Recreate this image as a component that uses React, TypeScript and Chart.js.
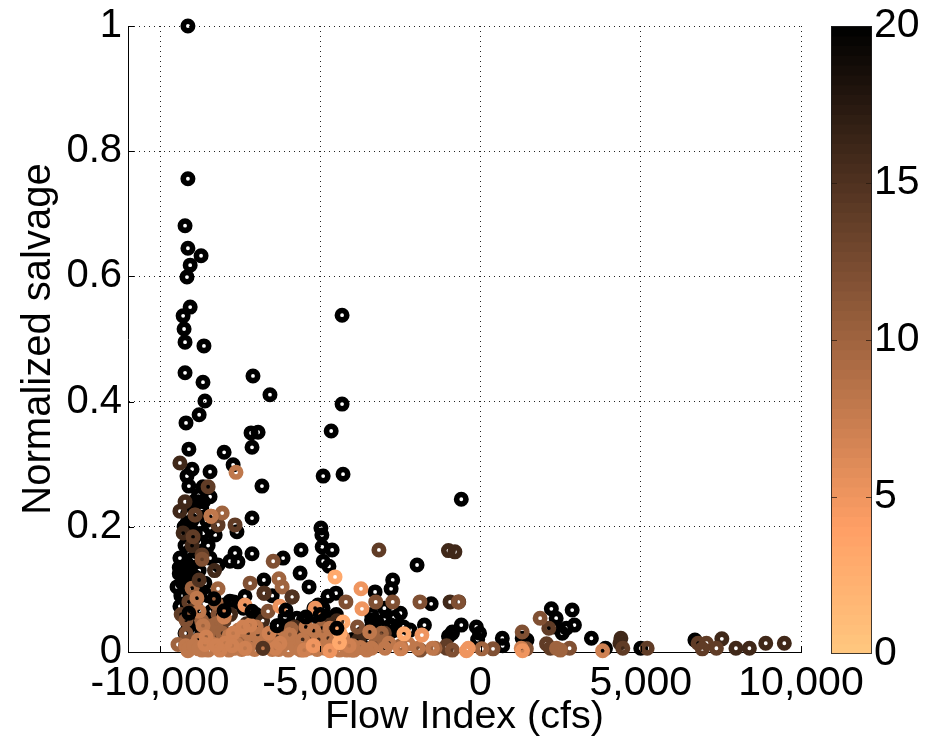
import React, { useEffect, useRef } from "react";
import { Chart, registerables } from "chart.js";

Chart.register(...registerables);

const xTicks = [-10000, -5000, 0, 5000, 10000];
const xTickLabels = ["-10,000", "-5,000", "0", "5,000", "10,000"];
const yTicks = [0, 0.2, 0.4, 0.6, 0.8, 1];
const colorTicks = [0, 5, 10, 15, 20];

type P = [number, number];

const black20: P[] = [
  [-9130, 1], [-9130, 0.756], [-9220, 0.681], [-9130, 0.645], [-8720, 0.633], [-9060, 0.618], [-9160, 0.599],
  [-9060, 0.551], [-4320, 0.538], [-9280, 0.537], [-9250, 0.516], [-9220, 0.495], [-8630, 0.489], [-9220, 0.446],
  [-7100, 0.441], [-8660, 0.431], [-6570, 0.411], [-8600, 0.401], [-4320, 0.396], [-8780, 0.379], [-9190, 0.366],
  [-4660, 0.353], [-7160, 0.35], [-6940, 0.351], [-7130, 0.327], [-8000, 0.319], [-9100, 0.324], [-7720, 0.299],
  [-9000, 0.292], [-8440, 0.288], [-9160, 0.281], [-4910, 0.281], [-4290, 0.284], [-9100, 0.265], [-6820, 0.265],
  [-8660, 0.264], [-8440, 0.248], [-600, 0.244], [-8810, 0.24], [-7130, 0.214], [-9160, 0.206], [-7600, 0.192],
  [-4980, 0.198], [-4950, 0.187], [-8440, 0.198], [-8280, 0.187], [-4940, 0.168], [-4630, 0.163], [-7660, 0.158],
  [-7130, 0.157], [-7820, 0.145], [-7570, 0.144], [-8190, 0.139], [-6160, 0.15], [-5600, 0.163], [-4910, 0.145],
  [-4730, 0.137], [-1980, 0.139], [-5630, 0.126], [-6760, 0.115], [-5350, 0.104], [-2740, 0.115], [-2790, 0.101],
  [-3290, 0.096], [-7350, 0.089], [-7820, 0.081], [-4510, 0.094], [-4760, 0.089], [-1540, 0.077], [-9470, 0.104],
  [-9380, 0.073], [-9220, 0.056], [-9000, 0.062], [-9220, 0.03], [-9310, 0.13], [-9100, 0.16], [-9220, 0.17],
  [-9380, 0.15], [-8970, 0.18], [-8780, 0.175], [-9000, 0.21], [-8780, 0.13], [-8600, 0.11], [-9280, 0.09],
  [-8440, 0.15], [-8900, 0.12], [-9100, 0.1], [-8500, 0.17], [-8700, 0.23], [-9250, 0.12], [-9130, 0.045],
  [-8900, 0.05], [-8600, 0.055], [-7000, 0.06], [-6500, 0.09], [-6100, 0.056], [-5530, 0.051], [-5730, 0.054],
  [-5200, 0.07], [-4910, 0.07], [-5070, 0.075], [-4600, 0.055], [-3300, 0.05], [-3000, 0.07], [-2800, 0.043],
  [-3400, 0.04], [-2500, 0.062], [-3000, 0.051], [-3400, 0.051], [-2700, 0.055], [-2400, 0.04], [-2200, 0.035],
  [-3100, 0.037], [-2800, 0.032], [-1750, 0.043], [-600, 0.043], [-880, 0.032], [-130, 0.04], [-5700, 0.04],
  [2210, 0.069], [2860, 0.067], [2360, 0.054], [2930, 0.043], [2300, 0.04], [2680, 0.038], [2550, 0.03], [680, 0.022],
  [1300, 0.022], [1450, 0.019], [-30, 0.03], [-90, 0.02], [690, 0.01], [3460, 0.022], [3900, 0.006], [5000, 0.006],
  [6690, 0.019], [-880, 0.03], [-1000, 0.025], [-4000, 0.02], [-5000, 0.04], [-6300, 0.042], [-7500, 0.03],
  [-8000, 0.075], [-7700, 0.08], [-7400, 0.07],
  [-9400, 0.135], [-9300, 0.11], [-9150, 0.14], [-9050, 0.135], [-8950, 0.15], [-8850, 0.16], [-9250, 0.2],
  [-9150, 0.22], [-8950, 0.24], [-8800, 0.25], [-8650, 0.24], [-8550, 0.21], [-8650, 0.19], [-8900, 0.19],
  [-9100, 0.19], [-9400, 0.125], [-9350, 0.09], [-9150, 0.075], [-8900, 0.075], [-8750, 0.09], [-8500, 0.09],
  [-8400, 0.065], [-8200, 0.07], [-8700, 0.03], [-8900, 0.03], [-9000, 0.015], [-9200, 0.01], [-8400, 0.02],
  [-3400, 0.06], [-3200, 0.045], [-2950, 0.03], [-2650, 0.035], [-3600, 0.03], [-3500, 0.02], [-3000, 0.015],
  [-5000, 0.05], [-4800, 0.04], [-4500, 0.06], [-5200, 0.045], [-5500, 0.03], [-5300, 0.025],
];

const dark16: P[] = [
  [-9380, 0.302], [-9220, 0.24], [-9380, 0.225], [-8900, 0.219], [-9280, 0.19], [-9000, 0.17], [-8300, 0.13],
  [-7800, 0.06], [-6800, 0.05], [-6200, 0.03], [-5800, 0.04], [-5000, 0.025], [-4500, 0.035], [-4480, 0.05],
  [-4700, 0.043], [-8000, 0.03], [-7300, 0.045], [4380, 0.022], [4350, 0.014], [7530, 0.021], [7970, 0.006],
  [8390, 0.006], [8900, 0.014], [9480, 0.014], [-950, 0.08], [-800, 0.16], [-1000, 0.162], [-680, 0.08],
  [-7000, 0.02], [-6500, 0.02], [-6000, 0.018], [-5600, 0.015], [-5300, 0.018], [-4900, 0.025], [-4500, 0.02],
  [-7300, 0.025], [-6800, 0.035], [-8100, 0.02], [-3800, 0.02], [-3700, 0.03],
];

const brown14: P[] = [
  [-8500, 0.264], [-8190, 0.203], [-8910, 0.219], [-8970, 0.184], [-7660, 0.203], [-3170, 0.163], [-8690, 0.155],
  [-6760, 0.094], [-5880, 0.088], [-9340, 0.06], [-9100, 0.08], [-8000, 0.05], [-1060, 0.006], [-1060, 0.01],
  [4440, 0.006], [5200, 0.006], [2060, 0.013], [2180, 0.006], [6790, 0.014], [7050, 0.014], [6920, 0.005],
  [7360, 0.006], [-6790, 0.006], [2130, 0.038], [-3000, 0.03],
];

const brown12: P[] = [
  [-8690, 0.148], [-6470, 0.145], [-4200, 0.08], [-3270, 0.08], [-2740, 0.08], [-1890, 0.08], [-690, 0.08],
  [-3840, 0.04], [1300, 0.032], [1860, 0.054], [390, 0.005], [-1880, 0.003], [-6630, 0.065], [-9190, 0.03],
  [-9190, 0.051], [1430, 0.005], [2780, 0.006], [-880, 0.003], [-3090, 0.018], [-8190, 0.06], [-7190, 0.11],
];

const mid10: P[] = [
  [-8060, 0.222], [-8190, 0.101], [-8250, 0.078], [-6290, 0.117], [-6190, 0.104], [-8380, 0.042], [-8000, 0.056],
  [-5910, 0.037], [-3270, 0.014], [-1420, 0.006], [40, 0.005], [-9440, 0.012], [-9000, 0.102], [-4950, 0.038],
  [-4730, 0.008], [-3090, 0.03], [-2500, 0.01], [-4000, 0.003], [2490, 0.003], [2370, 0.006], [-8500, 0.027],
  [-7500, 0.014], [-5300, 0.01],
  [-8700, 0.05], [-8450, 0.035], [-8250, 0.045], [-8050, 0.03],
];

const orange8: P[] = [
  [-8410, 0.217], [-8850, 0.086], [-8780, 0.065], [-8660, 0.042], [-8810, 0.019], [-8690, 0.003], [-9130, 0.002],
  [-7000, 0.04], [-5700, 0.006], [-5200, 0.034], [-4700, 0.038], [-4700, 0.006], [-4170, 0.003], [-3460, 0.032],
  [-2980, 0.006], [-2460, 0.006], [-2860, 0.014], [-7660, 0.006], [-7160, 0.014], [-3400, 0.006], [-2260, 0.013],
  [-1950, 0.006], [-1500, 0.006], [-4860, 0.006], [-4000, 0.01], [-8130, 0.006], [-7970, 0.014], [-9200, 0.01],
  [-9100, 0.005], [-8950, 0.01], [-8800, 0.005], [-8500, 0.003], [-8300, 0.012], [-8050, 0.008], [-7850, 0.003],
  [-7600, 0.012], [-7450, 0.004], [-7250, 0.006], [-7050, 0.004], [-6850, 0.012], [-6500, 0.004], [-6300, 0.004],
  [-6150, 0.012], [-6000, 0.003], [-5800, 0.01], [-5600, 0.003], [-5350, 0.006], [-5100, 0.004], [-4600, 0.008],
  [-4400, 0.003], [-4250, 0.01], [-3950, 0.003], [-3750, 0.007], [-3550, 0.003],
  [-7850, 0.025], [-7550, 0.035], [-7250, 0.03], [-6950, 0.028], [-6700, 0.015], [-6350, 0.025], [-5950, 0.028],
  [-5550, 0.02], [-5450, 0.04], [-5050, 0.02], [-4750, 0.022], [-4550, 0.015],
];

const orange7: P[] = [
  [-8000, 0.056], [-8560, 0.024], [-7410, 0.04], [-7190, 0.043], [-7720, 0.03], [-6260, 0.014], [-4290, 0.022],
  [-8130, 0.003], [-7970, 0.014], [-7350, 0.006], [-5200, 0.01], [-2500, 0.005], [3810, 0.002], [1270, 0.006],
  [-8600, 0.012], [-6400, 0.006], [-5500, 0.003], [-4100, 0.01], [-7750, 0.01], [-6600, 0.03], [-8250, 0.01],
];

const light5: P[] = [
  [-7350, 0.075], [-6260, 0.073], [-5160, 0.07], [-3700, 0.069], [-3730, 0.101], [-5220, 0.01], [-1830, 0.027],
  [-440, 0.002], [1310, 0.002], [-380, 0.006], [-4700, 0.002],
];

const light3: P[] = [
  [-4540, 0.12], [-4290, 0.048], [-4380, 0.03], [-2390, 0.029], [-4400, 0.015],
];

const topDark20: P[] = [
  [-7130, 0.065], [-6070, 0.067], [-6350, 0.042], [-8000, 0.066], [-5450, 0.056], [-8320, 0.085], [-4480, 0.038],
  [-9100, 0.062], [-5000, 0.06],
];

const topBrown15: P[] = [
  [-6790, 0.006], [-6750, 0.094], [-5880, 0.088], [-8780, 0.115],
];

const topMid: P[] = [
  [-7630, 0.287], [-8410, 0.217],
];

const layers: { points: P[]; level: number }[] = [
  { points: black20, level: 20 },
  { points: dark16, level: 16 },
  { points: brown14, level: 14 },
  { points: brown12, level: 12 },
  { points: mid10, level: 10 },
  { points: orange8, level: 8 },
  { points: orange7, level: 7 },
  { points: light5, level: 5 },
  { points: light3, level: 3 },
  { points: topDark20, level: 20 },
  { points: topBrown15, level: 15 },
  { points: topMid, level: 8 },
];

function copperReversed(value: number): string {
  const t = 1 - value / 20;
  const r = Math.min(255, 255 * 1.25 * t);
  const g = 255 * 0.7812 * t;
  const b = 255 * 0.4975 * t;
  return `rgb(${Math.round(r)},${Math.round(g)},${Math.round(b)})`;
}

const STEPS = 64;
const colorLevels = Array.from({ length: STEPS }, (_, i) => (STEPS - 1 - i) * (20 / STEPS));

const FONT = "'Liberation Sans', Arial, sans-serif";

const zeroPadding = (s: any) => {
  s.paddingTop = 0;
  s.paddingBottom = 0;
  s.paddingLeft = 0;
  s.paddingRight = 0;
};

const innerTicks = {
  id: "innerTicks",
  afterDatasetsDraw(chart: any) {
    const { ctx, chartArea, scales } = chart;
    ctx.save();
    ctx.strokeStyle = "#000";
    ctx.lineWidth = 1;
    scales.y.ticks.forEach((t: any) => {
      const py = Math.round(scales.y.getPixelForValue(t.value)) + 0.5;
      ctx.beginPath();
      ctx.moveTo(chartArea.left, py);
      ctx.lineTo(chartArea.left + 6, py);
      ctx.stroke();
    });
    scales.x.ticks.forEach((t: any) => {
      const px = Math.round(scales.x.getPixelForValue(t.value)) + 0.5;
      ctx.beginPath();
      ctx.moveTo(px, chartArea.bottom);
      ctx.lineTo(px, chartArea.bottom - 6);
      ctx.stroke();
    });
    ctx.restore();
  },
};

const barTicks = {
  id: "barTicks",
  afterDatasetsDraw(chart: any) {
    const { ctx, chartArea, scales } = chart;
    ctx.save();
    ctx.strokeStyle = "rgba(40,25,15,0.75)";
    ctx.lineWidth = 1;
    colorTicks.slice(1, -1).forEach((v) => {
      const py = Math.round(scales.y.getPixelForValue(v)) + 0.5;
      ctx.beginPath();
      ctx.moveTo(chartArea.left, py);
      ctx.lineTo(chartArea.left + 6, py);
      ctx.moveTo(chartArea.right, py);
      ctx.lineTo(chartArea.right - 6, py);
      ctx.stroke();
    });
    ctx.strokeStyle = "rgba(30,30,30,0.85)";
    ctx.strokeRect(chartArea.left + 0.5, chartArea.top + 0.5, chartArea.width - 1, chartArea.height - 1);
    ctx.restore();
  },
};

export default function App() {
  const mainRef = useRef<HTMLCanvasElement>(null);
  const barRef = useRef<HTMLCanvasElement>(null);

  useEffect(() => {
    document.body.style.margin = "0";
    const main = new Chart(mainRef.current!, {
      type: "scatter",
      data: {
        datasets: layers.map((l, i) => ({
          data: l.points.map(([x, y]) => ({ x, y })),
          order: layers.length - i,
          clip: false as any,
          pointStyle: "circle",
          pointRadius: 4.7,
          pointHoverRadius: 4.7,
          pointBorderWidth: 5.6,
          pointBackgroundColor: "rgba(0,0,0,0)",
          pointBorderColor: copperReversed(l.level),
        })),
      },
      options: {
        animation: false,
        responsive: false,
        events: [],
        layout: { padding: { left: 0, top: 26, right: 126, bottom: 0 } },
        plugins: { legend: { display: false }, tooltip: { enabled: false } },
        scales: {
          x: {
            type: "linear",
            min: -11000,
            max: 10000,
            afterBuildTicks: (s: any) => {
              s.ticks = xTicks.map((value) => ({ value }));
            },
            afterFit: (s: any) => {
              s.height = 89;
              zeroPadding(s);
            },
            border: { display: true, color: "#000", width: 1, dash: [1, 4] },
            grid: { color: "#222", lineWidth: 1, drawTicks: false },
            ticks: {
              autoSkip: false,
              maxRotation: 0,
              minRotation: 0,
              padding: 7,
              color: "#000",
              font: { family: FONT, size: 41 },
              callback: (v: any) => xTickLabels[xTicks.indexOf(v)] ?? "",
            },
            title: {
              display: true,
              text: "Flow Index (cfs)",
              color: "#000",
              font: { family: FONT, size: 39.5 },
              padding: { top: 0, bottom: 0 },
            },
          },
          y: {
            type: "linear",
            min: 0,
            max: 1,
            afterBuildTicks: (s: any) => {
              s.ticks = yTicks.map((value) => ({ value }));
            },
            afterFit: (s: any) => {
              s.width = 128;
              zeroPadding(s);
            },
            border: { display: true, color: "#000", width: 1, dash: [1, 4] },
            grid: { color: "#222", lineWidth: 1, drawTicks: false },
            ticks: {
              autoSkip: false,
              padding: 6,
              color: "#000",
              font: { family: FONT, size: 40 },
              callback: (v: any) => String(v),
            },
            title: {
              display: true,
              text: "Normalized salvage",
              color: "#000",
              font: { family: FONT, size: 40 },
              padding: { top: 15, bottom: 0 },
            },
          },
        },
      } as any,
      plugins: [innerTicks],
    } as any);

    const bar = new Chart(barRef.current!, {
      type: "bar",
      data: {
        labels: ["level"],
        datasets: colorLevels.map((lo) => ({
          data: [[lo, 20]] as any,
          backgroundColor: copperReversed(lo + 10 / STEPS),
          borderWidth: 0,
          barPercentage: 1,
          categoryPercentage: 1,
          grouped: false,
        })),
      },
      options: {
        animation: false,
        responsive: false,
        events: [],
        layout: { padding: { left: 31, top: 26, right: 0, bottom: 87 } },
        plugins: { legend: { display: false }, tooltip: { enabled: false } },
        scales: {
          x: { display: false },
          y: {
            position: "right",
            min: 0,
            max: 20,
            afterBuildTicks: (s: any) => {
              s.ticks = colorTicks.map((value) => ({ value }));
            },
            afterFit: (s: any) => {
              s.width = 55;
              zeroPadding(s);
            },
            grid: { display: false, drawTicks: false },
            border: { display: false },
            ticks: {
              padding: 2,
              color: "#000",
              font: { family: FONT, size: 41 },
              callback: (v: any) => String(v),
            },
          },
        },
      } as any,
      plugins: [barTicks],
    } as any);

    return () => {
      main.destroy();
      bar.destroy();
    };
  }, []);

  return (
    <div style={{ position: "absolute", left: 0, top: 0, width: 927, height: 741, overflow: "hidden", background: "#fff" }}>
      <canvas ref={mainRef} width={927} height={741} style={{ position: "absolute", left: 0, top: 0 }} />
      <canvas ref={barRef} width={127} height={741} style={{ position: "absolute", left: 800, top: 0 }} />
    </div>
  );
}
